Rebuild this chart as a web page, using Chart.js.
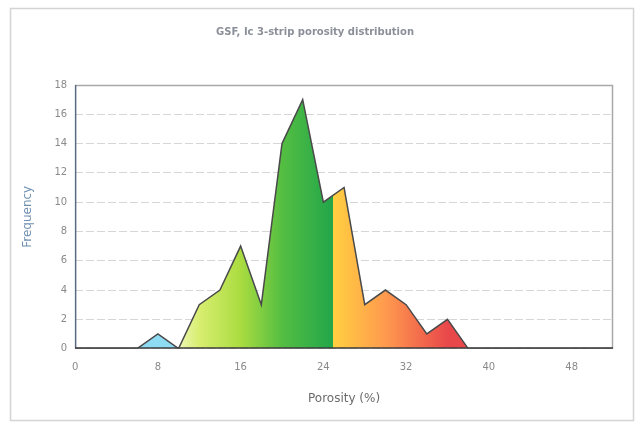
<!DOCTYPE html>
<html>
<head>
<meta charset="utf-8">
<script src="https://cdn.jsdelivr.net/npm/chart.js@4/dist/chart.umd.min.js"></script>
<style>
  html, body { margin: 0; padding: 0; background: #fff; }
  #wrap { position: relative; width: 636px; height: 427px; }
</style>
</head>
<body>
<div id="wrap"><canvas id="porosityChart" width="636" height="427"></canvas></div>
<script>
// porosity bins (%) and how many samples fall in each
const porosity = [0, 2, 4, 6, 8, 10, 12, 14, 16, 18, 20, 22, 24, 26, 28, 30, 32, 34, 36, 38, 40, 42, 44, 46, 48, 50, 52];
const frequency = [0, 0, 0, 0, 1, 0, 3, 4, 7, 3, 14, 17, 10, 11, 3, 4, 3, 1, 2, 0, 0, 0, 0, 0, 0, 0, 0];
const xTicks = [0, 8, 16, 24, 32, 40, 48];
const chartTitle = 'GSF, Ic 3-strip porosity distribution';

// colour bands along the porosity axis
const fillStops = [
  [6, '#8edcf3'], [10, '#8edcf3'],
  [10, '#eef7b4'], [12, '#d8ee70'], [16, '#aadc40'], [20, '#54be42'], [24.9, '#22a64a'],
  [24.9, '#ffd040'], [30, '#ff9a4e'], [36, '#e9484a'], [52, '#e9484a']
];

const points = porosity.map((p, i) => ({ x: p, y: frequency[i] }));

function bandGradient(context) {
  const chart = context.chart;
  const { ctx, chartArea, scales } = chart;
  if (!chartArea) return null;
  const x0 = scales.x.getPixelForValue(0);
  const x1 = scales.x.getPixelForValue(52);
  const g = ctx.createLinearGradient(x0, 0, x1, 0);
  fillStops.forEach(([v, c]) => g.addColorStop(v / 52, c));
  return g;
}

// white page, light outer frame, plot frame on top of the fill
const framePlugin = {
  id: 'frames',
  beforeDraw(chart) {
    const c = chart.ctx;
    c.save();
    c.fillStyle = '#fff';
    c.fillRect(0, 0, chart.width, chart.height);
    c.strokeStyle = '#d4d4d4';
    c.lineWidth = 1.5;
    c.strokeRect(10.5, 8.5, 623, 412);
    c.restore();
  },
  afterDatasetsDraw(chart) {
    const a = chart.chartArea;
    const c = chart.ctx;
    c.save();
    c.lineWidth = 1.5;
    c.strokeStyle = '#a9a9a9';
    c.beginPath();
    c.moveTo(a.left, a.top + 0.5);
    c.lineTo(a.right - 0.5, a.top + 0.5);
    c.lineTo(a.right - 0.5, a.bottom);
    c.stroke();
    c.strokeStyle = '#5a6a80';
    c.beginPath();
    c.moveTo(a.left + 0.5, a.top);
    c.lineTo(a.left + 0.5, a.bottom);
    c.stroke();
    c.strokeStyle = '#3c3c3c';
    c.beginPath();
    c.moveTo(a.left, a.bottom - 0.5);
    c.lineTo(a.right, a.bottom - 0.5);
    c.stroke();
    c.restore();
  }
};

new Chart(document.getElementById('porosityChart'), {
  type: 'line',
  data: {
    datasets: [{
      data: points,
      borderColor: '#4a4a4a',
      borderWidth: 1.5,
      backgroundColor: bandGradient,
      fill: 'origin',
      tension: 0,
      pointRadius: 0
    }]
  },
  options: {
    responsive: false,
    animation: false,
    layout: { padding: { left: 17, right: 23, top: 0, bottom: 17 } },
    plugins: {
      legend: { display: false },
      tooltip: { enabled: false },
      title: {
        display: true,
        text: chartTitle,
        color: '#8a8f98',
        font: { family: 'DejaVu Sans', size: 10, weight: 'bold' },
        padding: { top: 26, bottom: 47 }
      }
    },
    scales: {
      x: {
        type: 'linear',
        min: 0,
        max: 52,
        afterBuildTicks: axis => { axis.ticks = xTicks.map(v => ({ value: v })); },
        grid: { display: false, drawTicks: false },
        border: { display: false },
        ticks: { color: '#8a8a8a', font: { family: 'DejaVu Sans', size: 10 }, padding: 13, maxRotation: 0 },
        title: {
          display: true,
          text: 'Porosity (%)',
          color: '#6c6c6c',
          font: { family: 'DejaVu Sans', size: 12 },
          padding: { top: 5 }
        }
      },
      y: {
        min: 0,
        max: 18,
        ticks: { stepSize: 2, color: '#8a8a8a', font: { family: 'DejaVu Sans', size: 10 }, padding: 8 },
        grid: { color: '#d6d6d6', lineWidth: 1, drawTicks: false },
        border: { display: false, dash: [8, 3] },
        title: {
          display: true,
          text: 'Frequency',
          color: '#6f90b0',
          font: { family: 'DejaVu Sans', size: 12 },
          padding: { bottom: 11 }
        }
      }
    }
  },
  plugins: [framePlugin]
});
</script>
</body>
</html>
